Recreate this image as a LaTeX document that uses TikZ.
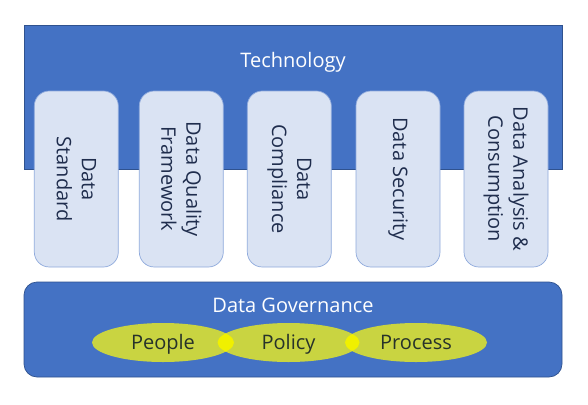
\documentclass[tikz,border=0pt]{standalone}
\usepackage{fontspec}
\setmainfont{Open Sans}
\usetikzlibrary{shapes.geometric}
\definecolor{bandblue}{HTML}{4472C4}
\definecolor{bandborder}{HTML}{2F528F}
\definecolor{pillarfill}{HTML}{DAE3F3}
\definecolor{pillarborder}{HTML}{8FAADC}
\definecolor{pillartextc}{HTML}{1F2D4D}
\definecolor{ellfill}{HTML}{C9D441}
\definecolor{overlapc}{HTML}{F0F000}
\definecolor{elltext}{HTML}{27322A}
\begin{document}
\begin{tikzpicture}[x=1pt,y=-1pt,
  band/.style={draw=bandborder, fill=bandblue, line width=0.7pt},
  pillar/.style={draw=pillarborder, fill=pillarfill, rounded corners=15pt, line width=0.7pt,
    rotate=-90, minimum width=176pt, minimum height=84pt, inner sep=0pt,
    text=pillartextc, align=center, font=\fontsize{20}{25}\selectfont},
  bandtitle/.style={text=white, font=\fontsize{20}{25}\selectfont, inner sep=0pt, anchor=base},
  ell/.style={ellipse, fill=ellfill, minimum width=142pt, minimum height=39pt, inner sep=0pt},
  elllabel/.style={text=elltext, font=\fontsize{20}{25}\selectfont, inner sep=0pt, anchor=base}
]
\useasboundingbox (0,0) rectangle (588,404);
\fill[white] (0,0) rectangle (588,404);
% Technology band
\draw[band] (24,25) rectangle (562,169);
\node[bandtitle] (tech) at (293,67) {Technology};
% pillars
\node[pillar] (p1) at (76.3,179) {Data\\Standard};
\node[pillar] (p2) at (181.3,179) {Data Quality\\Framework};
\node[pillar] (p3) at (289.3,179) {Data\\Compliance};
\node[pillar] (p4) at (398,179) {Data Security};
\node[pillar] (p5) at (506,179) {Data Analysis \&\\Consumption};
% Governance band
\draw[band, rounded corners=13pt] (24,282) rectangle (562,377);
\node[bandtitle] (gov) at (293,312) {Data Governance};
% ellipses
\node[ell] (people) at (163,342.5) {};
\node[ell] (policy) at (288.5,342.5) {};
\node[ell] (process) at (416,342.5) {};
\begin{scope}
  \clip (people.center) ellipse [x radius=71pt, y radius=19.5pt];
  \fill[overlapc] (policy.center) ellipse [x radius=71pt, y radius=19.5pt];
\end{scope}
\begin{scope}
  \clip (policy.center) ellipse [x radius=71pt, y radius=19.5pt];
  \fill[overlapc] (process.center) ellipse [x radius=71pt, y radius=19.5pt];
\end{scope}
\node[elllabel] (peoplelbl) at ([yshift=-6.5pt]people.center) {People};
\node[elllabel] (policylbl) at ([yshift=-6.5pt]policy.center) {Policy};
\node[elllabel] (processlbl) at ([yshift=-6.5pt]process.center) {Process};
\end{tikzpicture}
\end{document}
